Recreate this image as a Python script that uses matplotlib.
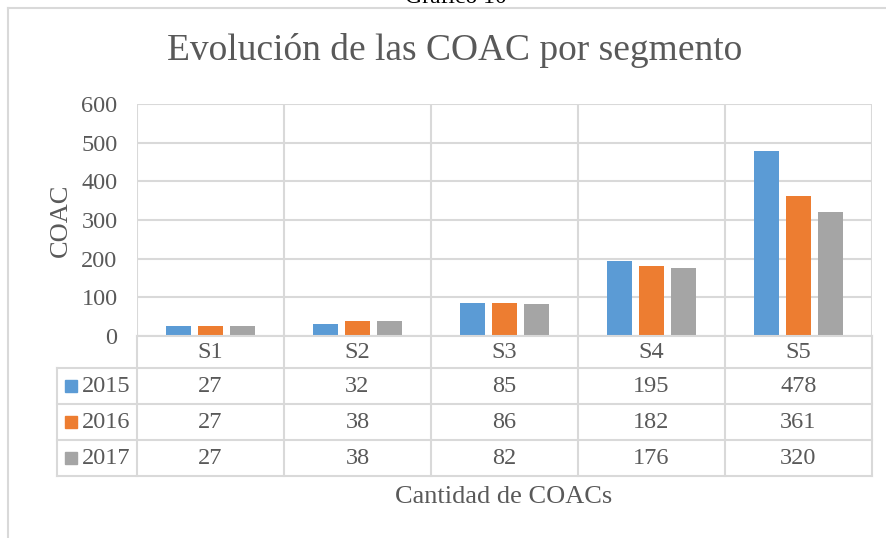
import numpy as np
import matplotlib.pyplot as plt
from matplotlib.patches import Rectangle

plt.rcParams["font.family"] = ["Liberation Serif", "DejaVu Serif"]

segmentos = ["S1", "S2", "S3", "S4", "S5"]
anios = ["2015", "2016", "2017"]
coac_2015 = [27, 32, 85, 195, 478]
coac_2016 = [27, 38, 86, 182, 361]
coac_2017 = [27, 38, 82, 176, 320]
series = [coac_2015, coac_2016, coac_2017]
colores = ["#5B9BD5", "#ED7D31", "#A5A5A5"]

GRIS_TEXTO = "#595959"
GRIS_LINEA = "#D9D9D9"
W, H = 887, 538
FS = 17.5


def fx(px):
    return px / W


def fy(py):
    return 1 - py / H


fig = plt.figure(figsize=(W / 100, H / 100), dpi=100, facecolor="white")

# marco exterior del grafico
fig.add_artist(plt.Line2D([fx(8.5), fx(8.5)], [fy(8), fy(H + 5)], color=GRIS_LINEA, lw=1.5))
fig.add_artist(plt.Line2D([fx(8.5), fx(W + 5)], [fy(8), fy(8)], color=GRIS_LINEA, lw=1.5))

# texto cortado arriba (como en el original)
fig.text(fx(456), fy(3), "Gráfico 10", ha="center", va="baseline", fontsize=17, color="black")

fig.text(fx(455), fy(51), "Evolución de las COAC por segmento", ha="center", va="center",
         fontsize=27, color=GRIS_TEXTO)

# area de trazado
x0, x1, ytop, ycero = 137, 872, 104, 336
ax = fig.add_axes([fx(x0), fy(ycero), fx(x1 - x0), (ycero - ytop) / H])
ax.set_xlim(0, len(segmentos))
ax.set_ylim(0, 600)
ax.set_yticks(np.arange(0, 601, 100))
ax.set_xticks([])
ax.grid(axis="y", color=GRIS_LINEA, lw=1.5)
ax.set_axisbelow(True)
for s in ax.spines.values():
    s.set_visible(False)
for i in range(len(segmentos) + 1):
    ax.axvline(i, color=GRIS_LINEA, lw=1.5, zorder=0)
ax.tick_params(axis="y", length=0, labelsize=FS, labelcolor=GRIS_TEXTO, pad=14)

centros = np.arange(len(segmentos)) + 0.5
paso = 0.218
ancho = 0.17
for k, (vals, col) in enumerate(zip(series, colores)):
    ax.bar(centros + (k - 1) * paso, vals, width=ancho, color=col, zorder=2)

ax.set_ylabel("COAC", fontsize=19, color=GRIS_TEXTO, labelpad=7)

# tabla de datos
tx0 = 57
filas_y = [336, 368, 404, 440, 476]
tabla = fig.add_axes([0, 0, 1, 1], facecolor="none")
tabla.set_xlim(0, W)
tabla.set_ylim(H, 0)
tabla.axis("off")


def col_px(i):
    return x0 + i * (x1 - x0) / len(segmentos)


# lineas horizontales
for yy in filas_y[1:]:
    tabla.plot([tx0, x1], [yy, yy], color=GRIS_LINEA, lw=1.5)
tabla.plot([x0, x1], [filas_y[0], filas_y[0]], color=GRIS_LINEA, lw=1.5)
# lineas verticales
tabla.plot([tx0, tx0], [filas_y[1], filas_y[-1]], color=GRIS_LINEA, lw=1.5)
for i in range(len(segmentos) + 1):
    tabla.plot([col_px(i), col_px(i)], [filas_y[0], filas_y[-1]], color=GRIS_LINEA, lw=1.5)

# encabezados
for i, seg in enumerate(segmentos):
    tabla.text((col_px(i) + col_px(i + 1)) / 2, (filas_y[0] + filas_y[1]) / 2 + 1, seg,
               ha="center", va="center", fontsize=FS, color=GRIS_TEXTO)

for r, (anio, vals, col) in enumerate(zip(anios, series, colores)):
    yc = (filas_y[r + 1] + filas_y[r + 2]) / 2
    tabla.add_patch(Rectangle((65, yc - 6), 12, 12, color=col))
    tabla.text(82, yc + 1, anio, ha="left", va="center", fontsize=FS, color=GRIS_TEXTO)
    for i, v in enumerate(vals):
        tabla.text((col_px(i) + col_px(i + 1)) / 2, yc + 1, str(v),
                   ha="center", va="center", fontsize=FS, color=GRIS_TEXTO)

fig.text(fx(504), fy(497), "Cantidad de COACs", ha="center", va="center",
         fontsize=19, color=GRIS_TEXTO)

fig.savefig("out.png", dpi=100, facecolor="white")
